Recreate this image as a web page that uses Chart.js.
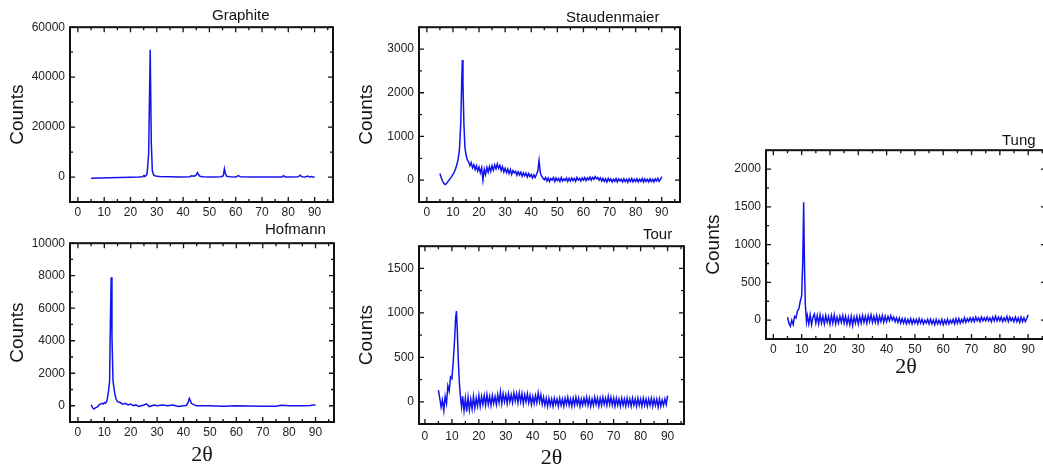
<!DOCTYPE html>
<html>
<head>
<meta charset="utf-8">
<script src="https://cdn.jsdelivr.net/npm/chart.js@4.4.1/dist/chart.umd.min.js"></script>
<style>
  body { margin: 0; width: 1043px; height: 466px; overflow: hidden; background: #fff; position: relative;
         font-family: 'Liberation Sans', Arial, sans-serif; }
  canvas { position: absolute; }
  .ttl { position: absolute; font-size: 15px; line-height: 15px; color: #111; white-space: nowrap; }
</style>
</head>
<body>
<script>
// x ticks shared by every panel (2-theta, degrees)
var xTickValues = [0, 10, 20, 30, 40, 50, 60, 70, 80, 90];

// Graphite
var graphiteAngle = [5, 8, 12, 16, 20, 23, 24.6, 25.1, 25.6, 26.3,
  26.9, 27.5, 27.9, 28.3, 28.8, 29.5, 31, 35, 39, 42.5,
  43.3, 44, 44.8, 45.5, 45.9, 46.4, 47.5, 51, 54.5, 55.3,
  55.7, 56.1, 56.6, 58, 60.2, 60.9, 61.8, 66, 72, 77.5,
  78.2, 78.8, 80, 83.8, 84.5, 85.2, 86.5, 87.4, 88, 88.7,
  90];
var graphiteCounts = [-500, -400, -300, -200, -100, 0, 100, 600, 200, 1200,
  9000, 51000, 14000, 2500, 800, 400, 200, 100, 50, 100,
  500, 300, 600, 1800, 900, 300, 100, 0, 100, 500,
  3300, 1300, 300, 100, 0, 600, 100, 0, 0, 0,
  500, 0, 0, 100, 700, 100, 0, 400, 0, 200,
  -100];
var graphiteYTicks = [0, 20000, 40000, 60000];

// Hofmann
var hofmannAngle = [5, 5.5, 6, 6.5, 7, 7.5, 8, 8.5, 9, 9.5,
  10, 10.5, 11, 11.5, 12, 12.3, 12.6, 12.9, 13.3, 14,
  14.5, 15, 16, 17, 18, 19, 20, 21, 22, 23,
  24, 25, 26, 27, 28, 29, 30, 32, 34, 36,
  38, 40, 41, 41.6, 42.2, 42.6, 43, 44, 45, 47,
  50, 55, 60, 65, 70, 75, 77, 80, 85, 88,
  90];
var hofmannCounts = [50, -100, -200, -150, -100, -50, 50, 100, 150, 100,
  200, 150, 300, 800, 1500, 5200, 7900, 4200, 1500, 700,
  400, 250, 200, 100, 150, 50, 100, 0, 50, -50,
  0, 50, 120, -50, 0, 50, 0, 50, 0, 50,
  -50, 0, 20, 150, 450, 300, 150, 50, 0, 0,
  0, -30, 0, -20, -30, -30, 30, 0, 0, 20,
  60];
var hofmannYTicks = [0, 2000, 4000, 6000, 8000, 10000];

// common 2-theta grid for the noisy tails (15.5 .. 90)
var tailAngle = [15.5, 16, 16.5, 17, 17.5, 18, 18.5, 19, 19.5, 20,
  20.5, 21, 21.5, 22, 22.5, 23, 23.5, 24, 24.5, 25,
  25.5, 26, 26.5, 27, 27.5, 28, 28.5, 29, 29.5, 30,
  30.5, 31, 31.5, 32, 32.5, 33, 33.5, 34, 34.5, 35,
  35.5, 36, 36.5, 37, 37.5, 38, 38.5, 39, 39.5, 40,
  40.5, 41, 41.5, 42, 42.5, 43, 43.5, 44, 44.5, 45,
  45.5, 46, 46.5, 47, 47.5, 48, 48.5, 49, 49.5, 50,
  50.5, 51, 51.5, 52, 52.5, 53, 53.5, 54, 54.5, 55,
  55.5, 56, 56.5, 57, 57.5, 58, 58.5, 59, 59.5, 60,
  60.5, 61, 61.5, 62, 62.5, 63, 63.5, 64, 64.5, 65,
  65.5, 66, 66.5, 67, 67.5, 68, 68.5, 69, 69.5, 70,
  70.5, 71, 71.5, 72, 72.5, 73, 73.5, 74, 74.5, 75,
  75.5, 76, 76.5, 77, 77.5, 78, 78.5, 79, 79.5, 80,
  80.5, 81, 81.5, 82, 82.5, 83, 83.5, 84, 84.5, 85,
  85.5, 86, 86.5, 87, 87.5, 88, 88.5, 89, 89.5, 90];

// Staudenmaier
var staudHeadAngle = [5, 5.5, 6, 6.5, 7, 7.5, 8, 8.5, 9, 9.5,
  10, 10.5, 11, 11.5, 12, 12.5, 13, 13.35, 13.6, 13.85,
  14.2, 14.6, 15];
var staudHeadCounts = [150, 60, -20, -70, -100, -80, -40, 0, 40, 80,
  130, 180, 260, 350, 480, 700, 1300, 2200, 2750, 2200,
  1300, 750, 580];
var staudTailCounts = [470, 420, 330, 400, 280, 350, 240, 330, 210, 300,
  170, 280, 0, 250, 130, 290, 180, 310, 200, 330,
  230, 350, 260, 370, 270, 340, 220, 310, 190, 270,
  170, 250, 150, 240, 130, 220, 170, 200, 110, 190,
  120, 180, 90, 170, 100, 160, 70, 150, 80, 130,
  50, 120, 60, 130, 200, 450, 160, 90, 40, 10,
  60, -20, 50, -30, 40, 0, 60, -30, 50, -10,
  40, -30, 60, -20, 30, -10, 50, -30, 40, -20,
  50, -10, 40, -30, 60, 0, 40, -20, 50, 0,
  60, -10, 50, 10, 70, 0, 60, 20, 80, 30,
  60, 0, 50, -20, 40, -30, 30, -40, 40, -20,
  30, -40, 20, -30, 40, -40, 30, -20, 20, -40,
  30, -30, 20, -50, 30, -30, 40, -40, 20, -30,
  30, -40, 20, -30, 40, -40, 30, -30, 20, -40,
  30, -30, 20, -40, 30, -20, 40, -30, 20, 80];
var staudYTicks = [0, 1000, 2000, 3000];

// Tour
var tourHeadAngle = [5, 5.5, 6, 6.5, 7, 7.5, 8, 8.5, 9, 9.5,
  10, 10.5, 11, 11.4, 11.7, 12, 12.4, 12.8, 13.2, 13.6,
  14, 14.5, 15];
var tourHeadCounts = [130, 40, -60, 20, -100, 60, -20, 180, 120, 280,
  260, 450, 700, 950, 1020, 800, 450, 200, 50, -60,
  60, -100, 40];
var tourTailCounts = [-110, 50, -90, 30, -80, 60, -70, 40, -50, 70,
  -50, 60, -30, 70, -40, 80, -30, 60, -40, 70,
  -20, 60, -30, 80, -10, 110, -20, 90, 0, 80,
  -20, 90, 0, 80, -10, 100, 10, 90, -10, 100,
  0, 90, -20, 80, 0, 90, -10, 70, -30, 60,
  -20, 70, -10, 100, 0, 80, -30, 50, -40, 40,
  -50, 40, -40, 30, -50, 40, -30, 30, -50, 40,
  -40, 30, -50, 40, -30, 50, -40, 30, -50, 40,
  -40, 50, -30, 40, -50, 30, -40, 40, -30, 50,
  -40, 40, -50, 30, -40, 50, -30, 40, -50, 40,
  -40, 50, -30, 40, -40, 60, -30, 50, -40, 40,
  -50, 40, -40, 30, -50, 40, -40, 30, -50, 40,
  -40, 30, -50, 40, -40, 30, -50, 40, -40, 30,
  -50, 40, -40, 30, -50, 30, -40, 40, -50, 30,
  -40, 30, -60, 30, -50, 20, -40, 30, -30, 70];
var tourYTicks = [0, 500, 1000, 1500];

// Tung
var tungHeadAngle = [5, 5.5, 6, 6.5, 7, 7.5, 8, 8.5, 9, 9.5,
  10, 10.4, 10.7, 11, 11.3, 11.7, 12, 12.5, 13, 13.5,
  14, 14.5, 15];
var tungHeadCounts = [40, -40, -80, 0, -60, 50, 30, 120, 150, 250,
  320, 800, 1560, 700, 200, -20, 60, -50, 70, -60,
  40, 80, -40];
var tungTailCounts = [60, -50, 70, -40, 50, -50, 60, -30, 50, -50,
  60, -40, 70, -50, 40, -40, 50, -30, 60, -40,
  50, -50, 40, -60, 50, -70, 40, -40, 50, -50,
  50, -40, 60, -30, 50, -40, 60, -20, 70, -30,
  50, -30, 60, -40, 50, -20, 60, -30, 50, -20,
  50, -10, 60, 0, 40, -20, 30, -30, 30, -40,
  20, -40, 20, -50, 10, -40, 20, -50, 10, -40,
  10, -50, 20, -40, 10, -50, 0, -40, 10, -50,
  10, -50, 0, -60, 10, -50, 0, -50, 10, -60,
  0, -50, 10, -50, 0, -40, 10, -50, 20, -40,
  20, -40, 10, -30, 30, -30, 20, -20, 30, -20,
  30, -20, 40, -10, 30, -20, 40, -10, 30, -10,
  40, -10, 30, -20, 40, -10, 50, -10, 40, -10,
  40, -20, 30, -10, 50, -20, 40, -10, 30, -20,
  40, -20, 30, -30, 40, -20, 30, -20, 20, 70];
var tungYTicks = [0, 500, 1000, 1500, 2000];

// layout: box = plot area [left, top, right, bottom] in page pixels
var Y_W = 64, PAD_T = 10, PAD_R = 8;
var panels = [
  { title: 'Graphite', tx: 212, ty: 7, angle: graphiteAngle, counts: graphiteCounts, yTicks: graphiteYTicks,
    xMin: -3, xMax: 97, yMin: -10000, yMax: 60000, box: [70, 25, 333, 202], xH: 22, xTitle: false, pad: 3 },
  { title: 'Hofmann', tx: 265, ty: 221, angle: hofmannAngle, counts: hofmannCounts, yTicks: hofmannYTicks,
    xMin: -3, xMax: 97, yMin: -1000, yMax: 10000, box: [70, 241, 334, 422], xH: 46, xTitle: true, pad: 3 },
  { title: 'Staudenmaier', tx: 566, ty: 9, angle: staudHeadAngle.concat(tailAngle),
    counts: staudHeadCounts.concat(staudTailCounts), yTicks: staudYTicks,
    xMin: -3, xMax: 97, yMin: -500, yMax: 3500, box: [419, 25, 680, 202], xH: 22, xTitle: false, pad: 3 },
  { title: 'Tour', tx: 643, ty: 226, angle: tourHeadAngle.concat(tailAngle),
    counts: tourHeadCounts.concat(tourTailCounts), yTicks: tourYTicks,
    xMin: -2.2, xMax: 96.1, yMin: -250, yMax: 1750, box: [419, 244, 684, 424], xH: 47, xTitle: true, pad: 5 },
  { title: 'Tung', tx: 1002, ty: 132, angle: tungHeadAngle.concat(tailAngle),
    counts: tungHeadCounts.concat(tungTailCounts), yTicks: tungYTicks,
    xMin: -2.6, xMax: 96.3, yMin: -250, yMax: 2250, box: [766, 148, 1046, 339], xH: 41, xTitle: true, pad: 3 }
];

Chart.defaults.font.family = "'Liberation Sans', Arial, sans-serif";

// minor ticks halfway between the major ones
function minors(major, min, max) {
  var step = major[1] - major[0], out = [];
  for (var v = major[0] - step / 2; v <= max; v += step) {
    if (v > min) out.push(v);
  }
  return out;
}

// closed frame with inward ticks on all four sides
var frameTicks = {
  id: 'frameTicks',
  afterDatasetsDraw: function (chart, args, opts) {
    var ctx = chart.ctx, a = chart.chartArea, x = chart.scales.x, y = chart.scales.y;
    ctx.save();
    ctx.strokeStyle = '#111';
    ctx.lineWidth = 1.3;
    function xMarks(vals, len) {
      vals.forEach(function (v) {
        var px = x.getPixelForValue(v);
        ctx.beginPath();
        ctx.moveTo(px, a.bottom); ctx.lineTo(px, a.bottom - len);
        ctx.moveTo(px, a.top); ctx.lineTo(px, a.top + len);
        ctx.stroke();
      });
    }
    function yMarks(vals, len) {
      vals.forEach(function (v) {
        var py = y.getPixelForValue(v);
        ctx.beginPath();
        ctx.moveTo(a.left, py); ctx.lineTo(a.left + len, py);
        ctx.moveTo(a.right, py); ctx.lineTo(a.right - len, py);
        ctx.stroke();
      });
    }
    xMarks(opts.xMajor, 5);
    xMarks(minors(opts.xMajor, x.min, x.max), 3);
    yMarks(opts.yMajor, 5);
    yMarks(minors(opts.yMajor, y.min, y.max), 3);
    ctx.lineWidth = 2;
    ctx.strokeRect(a.left, a.top, a.right - a.left, a.bottom - a.top);
    ctx.restore();
  }
};

panels.forEach(function (p) {
  var L = p.box[0], T = p.box[1], R = p.box[2], B = p.box[3];
  var cv = document.createElement('canvas');
  cv.width = Y_W + (R - L) + PAD_R;
  cv.height = PAD_T + (B - T) + p.xH;
  cv.style.left = (L - Y_W) + 'px';
  cv.style.top = (T - PAD_T) + 'px';
  document.body.appendChild(cv);

  var t = document.createElement('div');
  t.className = 'ttl';
  t.textContent = p.title;
  t.style.left = p.tx + 'px';
  t.style.top = p.ty + 'px';
  document.body.appendChild(t);

  var points = p.angle.map(function (v, i) { return { x: v, y: p.counts[i] }; });

  new Chart(cv.getContext('2d'), {
    type: 'line',
    data: {
      datasets: [{
        label: p.title,
        data: points,
        borderColor: '#1212ee',
        borderWidth: 1.5,
        pointRadius: 0,
        tension: 0,
        fill: false
      }]
    },
    options: {
      responsive: false,
      animation: false,
      events: [],
      layout: { padding: { top: PAD_T, right: PAD_R, left: 0, bottom: 0 } },
      plugins: {
        legend: { display: false },
        tooltip: { enabled: false },
        frameTicks: { xMajor: xTickValues, yMajor: p.yTicks }
      },
      scales: {
        x: {
          type: 'linear', min: p.xMin, max: p.xMax,
          grid: { display: false, drawTicks: false },
          border: { display: false },
          afterBuildTicks: function (s) { s.ticks = xTickValues.map(function (v) { return { value: v }; }); },
          afterFit: function (s) { s.height = p.xH; },
          ticks: { autoSkip: false, maxRotation: 0, padding: p.pad, color: '#222', font: { size: 12 } },
          title: {
            display: p.xTitle, text: '2θ', color: '#111',
            font: { family: "'Liberation Serif', 'Times New Roman', serif", size: 22 },
            padding: { top: 0, bottom: 0 }
          }
        },
        y: {
          type: 'linear', min: p.yMin, max: p.yMax,
          grid: { display: false, drawTicks: false },
          border: { display: false },
          afterBuildTicks: function (s) { s.ticks = p.yTicks.map(function (v) { return { value: v }; }); },
          afterFit: function (s) { s.width = Y_W; },
          ticks: { padding: 5, color: '#222', font: { size: 12 }, callback: function (v) { return String(v); } },
          title: { display: true, text: 'Counts', color: '#111', font: { size: 19 }, padding: { top: 0, bottom: 0 } }
        }
      }
    },
    plugins: [frameTicks]
  });
});
</script>
</body>
</html>
